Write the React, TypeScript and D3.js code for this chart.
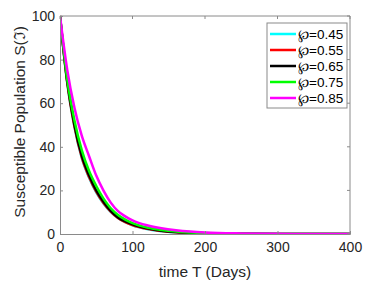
import React, { useEffect, useRef } from 'react';
import * as d3 from 'd3';

// time points (days)
const times = [0, 10, 20, 30, 40, 50, 60, 70, 80, 90, 100, 120, 140, 160, 180, 200, 250, 300, 350, 400];

// S values per phi
const s045 = [100, 69.2, 49.0, 34.9, 25.9, 19.1, 14.0, 10.1, 7.3, 5.4, 4.0, 2.3, 1.3, 0.75, 0.45, 0.25, 0.07, 0.02, 0, 0];
const s055 = [100, 69.5, 49.3, 35.2, 26.2, 19.4, 14.2, 10.3, 7.4, 5.5, 4.1, 2.4, 1.4, 0.8, 0.5, 0.28, 0.08, 0.02, 0, 0];
const s065 = [100, 70.0, 50.0, 36.0, 27.0, 20.0, 14.8, 10.6, 7.6, 5.8, 4.4, 2.6, 1.5, 0.9, 0.55, 0.32, 0.1, 0.03, 0, 0];
const s075 = [100, 71.0, 52.0, 38.5, 29.0, 22.0, 16.2, 11.8, 8.7, 6.6, 5.0, 3.0, 1.8, 1.1, 0.7, 0.42, 0.14, 0.05, 0.01, 0];
const s085 = [100, 75.3, 57.8, 45.1, 35.8, 26.8, 19.9, 14.4, 10.5, 8.1, 6.3, 4.0, 2.6, 1.7, 1.1, 0.7, 0.25, 0.08, 0.02, 0];

const legendLabels = ['\u2118=0.45', '\u2118=0.55', '\u2118=0.65', '\u2118=0.75', '\u2118=0.85'];
const seriesColors = ['#00ffff', '#ff0000', '#000000', '#00ff00', '#ff00ff'];
const xTicks = [0, 100, 200, 300, 400];
const yTicks = [0, 20, 40, 60, 80, 100];

const App = () => {
  const svgRef = useRef<SVGSVGElement>(null);

  useEffect(() => {
    const width = 377;
    const height = 281;
    const margin = { top: 16, right: 27, bottom: 47, left: 60 };
    const font = 'Liberation Sans, Arial, sans-serif';

    const svg = d3.select(svgRef.current);
    svg.selectAll('*').remove();

    const x = d3.scaleLinear().domain([0, 400]).range([margin.left, width - margin.right]);
    const y = d3.scaleLinear().domain([0, 100]).range([height - margin.bottom, margin.top]);

    const series = [s045, s055, s065, s075, s085];

    const line = d3.line<number>()
      .x((d, i) => x(times[i]))
      .y((d) => y(d))
      .curve(d3.curveMonotoneX);

    const clip = svg.append('defs').append('clipPath').attr('id', 'clip');
    clip.append('rect')
      .attr('x', x(0)).attr('y', y(100) - 2)
      .attr('width', x(400) - x(0)).attr('height', y(0) - y(100) + 2);

    svg.append('g').attr('clip-path', 'url(#clip)')
      .selectAll('path')
      .data(series)
      .enter()
      .append('path')
      .attr('d', (d) => line(d))
      .attr('fill', 'none')
      .attr('stroke', (d, i) => seriesColors[i])
      .attr('stroke-width', 2.5);

    // axes box
    const axisColor = '#8a8a8a';
    const xAxis = d3.axisBottom(x).tickValues(xTicks).tickSize(-3).tickPadding(8).tickFormat(d3.format('d'));
    const yAxis = d3.axisLeft(y).tickValues(yTicks).tickSize(-3).tickPadding(5).tickFormat(d3.format('d'));

    const gx = svg.append('g').attr('transform', `translate(0,${y(0)})`).call(xAxis);
    const gy = svg.append('g').attr('transform', `translate(${x(0)},0)`).call(yAxis);
    [gx, gy].forEach((g) => {
      g.select('.domain').attr('stroke', axisColor);
      g.selectAll('line').attr('stroke', axisColor);
      g.selectAll('text').attr('fill', '#262626').attr('font-size', 14).attr('font-family', font);
    });

    svg.append('line')
      .attr('x1', x(0)).attr('x2', x(400)).attr('y1', y(100)).attr('y2', y(100))
      .attr('stroke', axisColor);
    svg.append('line')
      .attr('x1', x(400)).attr('x2', x(400)).attr('y1', y(100)).attr('y2', y(0))
      .attr('stroke', axisColor);
    // top/right ticks
    xTicks.forEach((t) => {
      svg.append('line').attr('x1', x(t)).attr('x2', x(t)).attr('y1', y(100)).attr('y2', y(100) + 3).attr('stroke', axisColor);
    });
    yTicks.forEach((t) => {
      svg.append('line').attr('x1', x(400)).attr('x2', x(400) - 3).attr('y1', y(t)).attr('y2', y(t)).attr('stroke', axisColor);
    });

    // axis titles
    svg.append('text')
      .attr('x', (x(0) + x(400)) / 2)
      .attr('y', 277)
      .attr('text-anchor', 'middle')
      .attr('font-size', 15.5)
      .attr('font-family', font)
      .attr('fill', '#262626')
      .text('time T (Days)');

    svg.append('text')
      .attr('transform', `translate(25,${(y(0) + y(100)) / 2 - 3}) rotate(-90)`)
      .attr('text-anchor', 'middle')
      .attr('font-size', 15.5)
      .attr('font-family', font)
      .attr('fill', '#262626')
      .text('Susceptible Population S(\u2111)');

    // legend
    const lg = svg.append('g').attr('transform', 'translate(267,23)');
    lg.append('rect')
      .attr('width', 80).attr('height', 85)
      .attr('fill', '#fff').attr('stroke', axisColor);
    legendLabels.forEach((label, i) => {
      const ly = 11 + i * 16;
      lg.append('line')
        .attr('x1', 3).attr('x2', 29).attr('y1', ly).attr('y2', ly)
        .attr('stroke', seriesColors[i]).attr('stroke-width', 2.5);
      lg.append('text')
        .attr('x', 31).attr('y', ly + 5)
        .attr('font-size', 13.5)
        .attr('font-family', font)
        .attr('fill', '#000')
        .text(label);
    });
  }, []);

  return (
    <svg
      ref={svgRef}
      width={377}
      height={281}
      style={{ position: 'absolute', left: 0, top: 0, background: '#fff' }}
    />
  );
};

export default App;
